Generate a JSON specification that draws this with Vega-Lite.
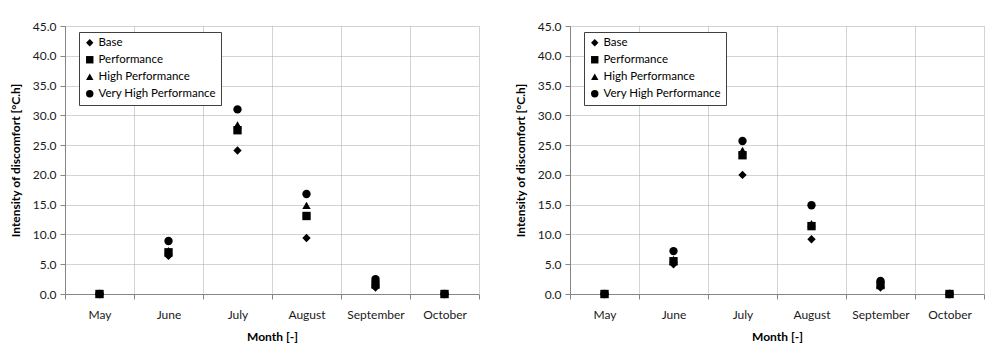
{
  "$schema": "https://vega.github.io/schema/vega-lite/v6.json",
  "background": "white",
  "padding": {"left": 9, "top": 20, "right": 10, "bottom": 10},
  "datasets": {
    "left": [
      {"month": "May", "series": "Base", "value": 0},
      {"month": "May", "series": "Performance", "value": 0},
      {"month": "May", "series": "High Performance", "value": 0},
      {"month": "May", "series": "Very High Performance", "value": 0},
      {"month": "June", "series": "Base", "value": 6.4},
      {"month": "June", "series": "Performance", "value": 7.0},
      {"month": "June", "series": "High Performance", "value": 7.3},
      {"month": "June", "series": "Very High Performance", "value": 8.9},
      {"month": "July", "series": "Base", "value": 24.1},
      {"month": "July", "series": "Performance", "value": 27.5},
      {"month": "July", "series": "High Performance", "value": 28.4},
      {"month": "July", "series": "Very High Performance", "value": 31.0},
      {"month": "August", "series": "Base", "value": 9.4},
      {"month": "August", "series": "Performance", "value": 13.1},
      {"month": "August", "series": "High Performance", "value": 14.9},
      {"month": "August", "series": "Very High Performance", "value": 16.8},
      {"month": "September", "series": "Base", "value": 1.1},
      {"month": "September", "series": "Performance", "value": 1.6},
      {"month": "September", "series": "High Performance", "value": 2.0},
      {"month": "September", "series": "Very High Performance", "value": 2.5},
      {"month": "October", "series": "Base", "value": 0},
      {"month": "October", "series": "Performance", "value": 0},
      {"month": "October", "series": "High Performance", "value": 0},
      {"month": "October", "series": "Very High Performance", "value": 0}
    ],
    "right": [
      {"month": "May", "series": "Base", "value": 0},
      {"month": "May", "series": "Performance", "value": 0},
      {"month": "May", "series": "High Performance", "value": 0},
      {"month": "May", "series": "Very High Performance", "value": 0},
      {"month": "June", "series": "Base", "value": 5.0},
      {"month": "June", "series": "Performance", "value": 5.5},
      {"month": "June", "series": "High Performance", "value": 5.8},
      {"month": "June", "series": "Very High Performance", "value": 7.2},
      {"month": "July", "series": "Base", "value": 20.0},
      {"month": "July", "series": "Performance", "value": 23.3},
      {"month": "July", "series": "High Performance", "value": 24.1},
      {"month": "July", "series": "Very High Performance", "value": 25.7},
      {"month": "August", "series": "Base", "value": 9.2},
      {"month": "August", "series": "Performance", "value": 11.4},
      {"month": "August", "series": "High Performance", "value": 11.8},
      {"month": "August", "series": "Very High Performance", "value": 14.9},
      {"month": "September", "series": "Base", "value": 1.1},
      {"month": "September", "series": "Performance", "value": 1.5},
      {"month": "September", "series": "High Performance", "value": 1.8},
      {"month": "September", "series": "Very High Performance", "value": 2.2},
      {"month": "October", "series": "Base", "value": 0},
      {"month": "October", "series": "Performance", "value": 0},
      {"month": "October", "series": "High Performance", "value": 0},
      {"month": "October", "series": "Very High Performance", "value": 0}
    ]
  },
  "spacing": 91,
  "bounds": "flush",
  "resolve": {"legend": {"shape": "independent"}},
  "hconcat": [
    {
      "width": 414,
      "height": 268,
      "data": {"name": "left"},
      "mark": {"type": "point", "filled": true, "color": "black", "opacity": 1, "size": 70},
      "encoding": {
        "x": {
          "field": "month", "type": "nominal", "sort": null,
          "scale": {"type": "band", "domain": ["May", "June", "July", "August", "September", "October"], "paddingInner": 0, "paddingOuter": 0},
          "axis": {"title": "Month [-]", "labelAngle": 0, "tickBand": "extent"}
        },
        "y": {
          "field": "value", "type": "quantitative",
          "scale": {"domain": [0, 45], "nice": false},
          "axis": {"title": "Intensity of discomfort [°C.h]", "values": [0, 5, 10, 15, 20, 25, 30, 35, 40, 45], "format": ".1f"}
        },
        "shape": {
          "field": "series", "type": "nominal",
          "scale": {"domain": ["Base", "Performance", "High Performance", "Very High Performance"], "range": ["diamond", "square", "triangle-up", "circle"]},
          "legend": {"title": null, "orient": "none", "legendX": 14, "legendY": 6}
        }
      }
    },
    {
      "width": 414,
      "height": 268,
      "data": {"name": "right"},
      "mark": {"type": "point", "filled": true, "color": "black", "opacity": 1, "size": 70},
      "encoding": {
        "x": {
          "field": "month", "type": "nominal", "sort": null,
          "scale": {"type": "band", "domain": ["May", "June", "July", "August", "September", "October"], "paddingInner": 0, "paddingOuter": 0},
          "axis": {"title": "Month [-]", "labelAngle": 0, "tickBand": "extent"}
        },
        "y": {
          "field": "value", "type": "quantitative",
          "scale": {"domain": [0, 45], "nice": false},
          "axis": {"title": "Intensity of discomfort [°C.h]", "values": [0, 5, 10, 15, 20, 25, 30, 35, 40, 45], "format": ".1f"}
        },
        "shape": {
          "field": "series", "type": "nominal",
          "scale": {"domain": ["Base", "Performance", "High Performance", "Very High Performance"], "range": ["diamond", "square", "triangle-up", "circle"]},
          "legend": {"title": null, "orient": "none", "legendX": 14, "legendY": 6}
        }
      }
    }
  ],
  "config": {
    "font": "Lato",
    "view": {"stroke": null},
    "axis": {
      "labelFont": "Lato",
      "labelFontSize": 12,
      "labelColor": "#1a1a1a",
      "titleFont": "Lato",
      "titleFontSize": 12,
      "titleFontWeight": "bold",
      "titleColor": "black",
      "domainColor": "#868686",
      "tickColor": "#868686",
      "tickSize": 5,
      "grid": true,
      "gridColor": "#a6a6a6",
      "gridDash": [1, 1],
      "gridWidth": 1
    },
    "axisX": {"labelPadding": 10, "titlePadding": 11},
    "axisY": {"labelPadding": 4, "titlePadding": 10},
    "legend": {
      "labelFont": "Lato",
      "labelFontSize": 11.5,
      "labelColor": "black",
      "symbolSize": 55,
      "symbolFillColor": "black",
      "symbolStrokeColor": "black",
      "symbolStrokeWidth": 0,
      "fillColor": "white",
      "strokeColor": "#404040",
      "padding": 5,
      "rowPadding": 4,
      "labelOffset": 3,
      "cornerRadius": 0
    }
  }
}
